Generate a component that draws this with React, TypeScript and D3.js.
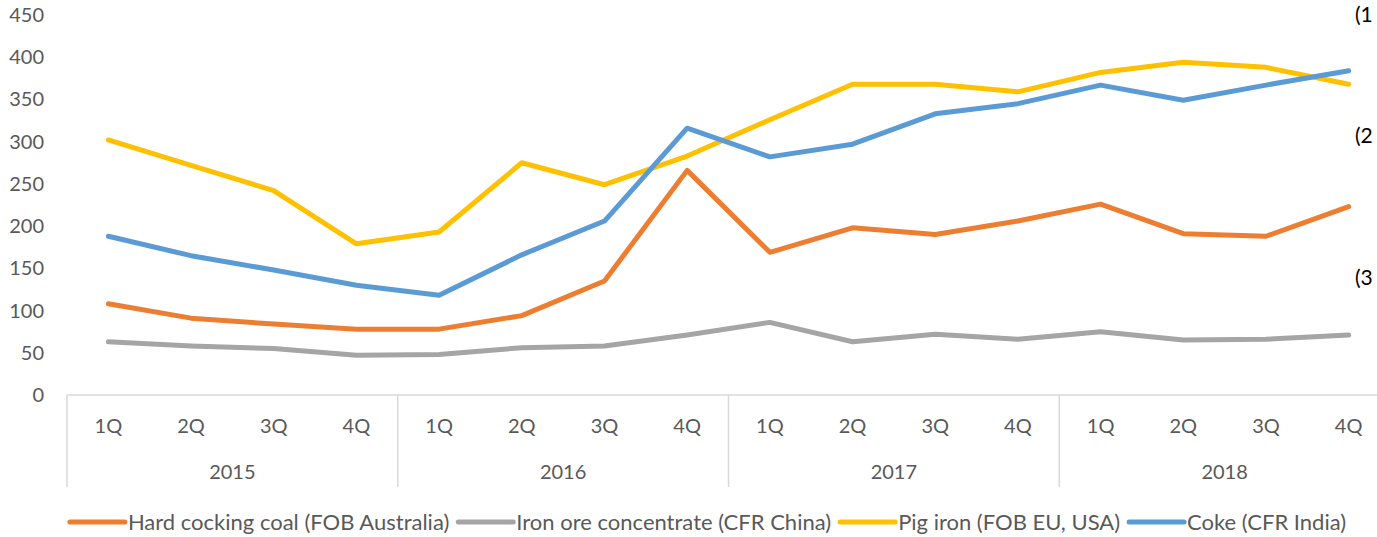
import React, { useRef, useEffect } from "react";
import * as d3 from "d3";

const years = ["2015", "2016", "2017", "2018"];
const quarters = ["1Q", "2Q", "3Q", "4Q"];
const yTicks = [0, 50, 100, 150, 200, 250, 300, 350, 400, 450];

const coal = [108, 91, 84, 78, 78, 94, 135, 266, 169, 198, 190, 206, 226, 191, 188, 223];
const ore = [63, 58, 55, 47, 48, 56, 58, 71, 86, 63, 72, 66, 75, 65, 66, 71];
const pigIron = [302, 272, 242, 179, 193, 275, 249, 283, 326, 368, 368, 359, 382, 394, 388, 368];
const coke = [188, 165, 148, 130, 118, 166, 206, 316, 282, 297, 333, 345, 367, 349, 367, 384];

const seriesNames = [
  "Hard cocking coal (FOB Australia)",
  "Iron ore concentrate (CFR China)",
  "Pig iron (FOB EU, USA)",
  "Coke (CFR India)",
];
const seriesColors = ["#ED7D31", "#A5A5A5", "#FFC000", "#5B9BD5"];
const sideNotes = ["(1", "(2", "(3"];

export default function App() {
  const ref = useRef<SVGSVGElement>(null);

  useEffect(() => {
    const width = 1377;
    const height = 537;
    const margin = { top: 15, left: 67, bottom: 142 };
    const plotRight = 1390;
    const font = "Lato, sans-serif";
    const fontSize = "20px";
    const labelColor = "#595959";

    const svg = d3.select(ref.current);
    svg.selectAll("*").remove();
    svg.attr("width", width).attr("height", height);

    const cats = years.flatMap((y) => quarters.map((q) => `${y}-${q}`));
    const x = d3.scalePoint().domain(cats).range([margin.left, plotRight]).padding(0.5);
    const step = x.step();
    const y = d3.scaleLinear().domain([0, 450]).range([height - margin.bottom, margin.top]);
    const y0 = y(0);

    // y labels
    svg.append("g")
      .selectAll("text")
      .data(yTicks)
      .join("text")
      .attr("x", 44)
      .attr("y", (d) => y(d))
      .attr("dy", "0.35em")
      .attr("text-anchor", "end")
      .attr("fill", labelColor)
      .style("font-family", font)
      .style("font-size", fontSize)
      .text((d) => d);

    // x axis line
    svg.append("line")
      .attr("x1", margin.left).attr("x2", plotRight)
      .attr("y1", y0).attr("y2", y0)
      .attr("stroke", "#D9D9D9").attr("stroke-width", 1.5);

    // group separators
    const bounds = d3.range(years.length + 1).map((i) => margin.left + i * step * 4);
    svg.append("g")
      .selectAll("line")
      .data(bounds)
      .join("line")
      .attr("x1", (d) => d).attr("x2", (d) => d)
      .attr("y1", y0).attr("y2", y0 + 92)
      .attr("stroke", "#D9D9D9").attr("stroke-width", 1.5);

    // quarter labels
    svg.append("g")
      .selectAll("text")
      .data(cats)
      .join("text")
      .attr("x", (d) => x(d)!)
      .attr("y", y0 + 31)
      .attr("dy", "0.35em")
      .attr("text-anchor", "middle")
      .attr("fill", labelColor)
      .style("font-family", font)
      .style("font-size", fontSize)
      .text((d) => d.split("-")[1]);

    // year labels
    svg.append("g")
      .selectAll("text")
      .data(years)
      .join("text")
      .attr("x", (d, i) => margin.left + (i + 0.5) * step * 4)
      .attr("y", y0 + 77)
      .attr("dy", "0.35em")
      .attr("text-anchor", "middle")
      .attr("fill", labelColor)
      .style("font-family", font)
      .style("font-size", fontSize)
      .text((d) => d);

    // lines
    const allSeries = [coal, ore, pigIron, coke];
    const line = d3.line<number>()
      .x((d, i) => x(cats[i])!)
      .y((d) => y(d));
    svg.append("g")
      .selectAll("path")
      .data(allSeries)
      .join("path")
      .attr("d", (d) => line(d))
      .attr("fill", "none")
      .attr("stroke", (d, i) => seriesColors[i])
      .attr("stroke-width", 5)
      .attr("stroke-linejoin", "round")
      .attr("stroke-linecap", "round");

    // side notes at the right edge
    svg.append("g")
      .selectAll("text")
      .data(sideNotes)
      .join("text")
      .attr("x", 1355)
      .attr("y", (d, i) => [15, 136, 278][i])
      .attr("dy", "0.35em")
      .attr("fill", "#000")
      .style("font-family", font)
      .style("font-size", "21px")
      .text((d) => d);

    // legend
    const legend = svg.append("g");
    const swatchW = 55;
    const gapSwatchText = 3;
    const gapItems = 9;
    let cursor = 0;
    seriesNames.forEach((name, i) => {
      const g = legend.append("g");
      g.append("line")
        .attr("x1", 0).attr("x2", swatchW)
        .attr("y1", 0).attr("y2", 0)
        .attr("stroke", seriesColors[i])
        .attr("stroke-width", 5)
        .attr("stroke-linecap", "round");
      const t = g.append("text")
        .attr("x", swatchW + gapSwatchText)
        .attr("dy", "0.35em")
        .attr("fill", labelColor)
        .style("font-family", font)
        .style("font-size", "22px")
        .text(name);
      const w = swatchW + gapSwatchText + (t.node() as SVGTextElement).getComputedTextLength();
      g.attr("transform", `translate(${cursor},0)`);
      cursor += w + gapItems;
    });
    const total = cursor - gapItems;
    legend.attr("transform", `translate(${708 - total / 2},${522})`);
  }, []);

  return <svg ref={ref} style={{ position: "absolute", left: 0, top: 0 }}></svg>;
}
